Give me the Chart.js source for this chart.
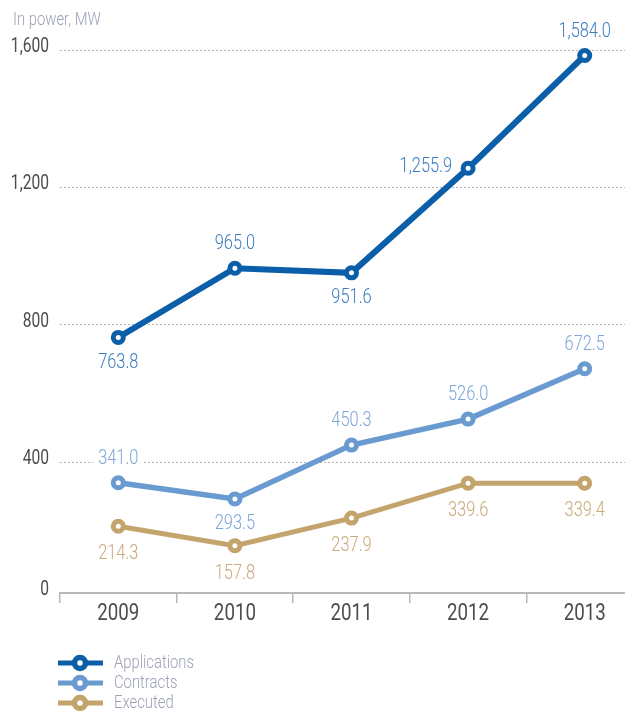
<!DOCTYPE html>
<html>
<head>
<meta charset="utf-8">
<script src="https://cdn.jsdelivr.net/npm/chart.js@4"></script>
<style>
  html, body { margin: 0; padding: 0; background: #fff; overflow: hidden; }
  #wrap { position: relative; width: 653px; height: 713px; }
</style>
</head>
<body>
<div id="wrap"><canvas id="chart" width="653" height="713"></canvas></div>
<script>
// Connection requests by power, MW
const years = ['2009', '2010', '2011', '2012', '2013'];
const applications = [763.8, 965.0, 951.6, 1255.9, 1584.0];
const contracts = [341.0, 293.5, 450.3, 526.0, 672.5];
const executed = [214.3, 157.8, 237.9, 339.6, 339.4];
const yTicks = [0, 400, 800, 1200, 1600];
const seriesNames = ['Applications', 'Contracts', 'Executed'];

// Look of each series
const lineColors = ['#0b5fa8', '#6a9bd0', '#c4a46d'];
const labelColors = ['#3a7cc0', '#7ea6d8', '#c8aa7a'];
const lineWidths = [6, 5.5, 5];
// Where each value label sits relative to its point
const labelPlace = [
  ['below', 'above', 'below', 'left', 'above'],
  ['above', 'below', 'above', 'above', 'above'],
  ['below', 'below', 'below', 'below', 'below']
];

const FONT = "Roboto, 'Noto Sans', sans-serif";
const SQUEEZE = 0.78;     // horizontal squeeze giving a condensed face
const AXIS_BASE = 20;     // value at which the baseline is drawn
const AXIS_TEXT = '#4d4d4d';
const NOTE_TEXT = '#9ca1b6';

function fmt(v) {
  return v.toLocaleString('en-US', { minimumFractionDigits: 1, maximumFractionDigits: 1 });
}

// Condensed text drawing
function fontStr(size, weight) {
  return (weight || 400) + ' ' + size + 'px ' + FONT;
}
function textWidth(ctx, text, size, weight) {
  ctx.font = fontStr(size, weight);
  return ctx.measureText(text).width * SQUEEZE;
}
function drawText(ctx, text, x, y, size, color, align, weight) {
  ctx.save();
  ctx.font = fontStr(size, weight);
  ctx.fillStyle = color;
  ctx.textAlign = align || 'center';
  ctx.textBaseline = 'middle';
  ctx.translate(x, y);
  ctx.scale(SQUEEZE, 1);
  ctx.fillText(text, 0, 0);
  ctx.restore();
}

const LABEL_SIZE = 21;
const LABEL_WEIGHT = 300;

function labelBox(ctx, meta, di, i) {
  const pt = meta.data[i];
  const text = fmt(meta._dataset.data[i]);
  const w = textWidth(ctx, text, LABEL_SIZE, LABEL_WEIGHT);
  const where = labelPlace[di][i];
  let cx = pt.x, cy = pt.y;
  if (where === 'above') cy = pt.y - 24;
  else if (where === 'below') cy = pt.y + (di === 2 ? 28 : 25);
  else if (where === 'left') { cx = pt.x - 16 - w / 2; cy = pt.y - 2; }
  return { text, cx, cy, w };
}

const valueLabels = {
  id: 'valueLabels',
  beforeDatasetsDraw(chart) {
    const ctx = chart.ctx;
    ctx.save();
    chart.data.datasets.forEach((ds, di) => {
      const meta = chart.getDatasetMeta(di);
      meta.data.forEach((pt, i) => {
        const b = labelBox(ctx, meta, di, i);
        ctx.fillStyle = '#ffffff';
        ctx.fillRect(b.cx - b.w / 2 - 5, b.cy - 10, b.w + 10, 20);
      });
    });
    ctx.restore();
  },
  afterDatasetsDraw(chart) {
    const ctx = chart.ctx;
    chart.data.datasets.forEach((ds, di) => {
      const meta = chart.getDatasetMeta(di);
      meta.data.forEach((pt, i) => {
        const b = labelBox(ctx, meta, di, i);
        drawText(ctx, b.text, b.cx, b.cy, LABEL_SIZE, labelColors[di], 'center', LABEL_WEIGHT);
      });
    });
  }
};

// Axis tick labels, drawn condensed at the positions the scales give
const axisLabels = {
  id: 'axisLabels',
  afterDraw(chart) {
    const ctx = chart.ctx;
    const xs = chart.scales.x, ys = chart.scales.y;
    ys.ticks.forEach(t => {
      const y = ys.getPixelForValue(t.value) - 3;
      const text = t.value <= AXIS_BASE ? '0' : t.value.toLocaleString('en-US');
      drawText(ctx, text, chart.chartArea.left - 11, y, 20, AXIS_TEXT, 'right', 400);
    });
    years.forEach((yr, i) => {
      drawText(ctx, yr, xs.getPixelForValue(i), chart.chartArea.bottom + 21, 24, AXIS_TEXT, 'center', 400);
    });
  }
};

const extras = {
  id: 'extras',
  afterDraw(chart) {
    const ctx = chart.ctx;
    // unit caption
    drawText(ctx, 'In power, MW', 13, 20, 19, NOTE_TEXT, 'left', 300);
    // legend
    seriesNames.forEach((name, i) => {
      const y = 663 + 20 * i;
      ctx.save();
      ctx.strokeStyle = lineColors[i];
      ctx.lineWidth = 5;
      ctx.beginPath();
      ctx.moveTo(58, y);
      ctx.lineTo(103, y);
      ctx.stroke();
      ctx.beginPath();
      ctx.arc(80, y, 5.5, 0, Math.PI * 2);
      ctx.fillStyle = '#ffffff';
      ctx.fill();
      ctx.lineWidth = 5.5;
      ctx.stroke();
      ctx.restore();
      drawText(ctx, name, 114, y, 19, NOTE_TEXT, 'left', 300);
    });
  }
};

function series(i, data) {
  return {
    label: seriesNames[i],
    data,
    borderColor: lineColors[i],
    borderWidth: lineWidths[i],
    backgroundColor: '#ffffff',
    pointBackgroundColor: '#ffffff',
    pointBorderColor: lineColors[i],
    pointBorderWidth: 5,
    pointRadius: 5,
    tension: 0,
    clip: false
  };
}

new Chart(document.getElementById('chart'), {
  type: 'line',
  data: {
    labels: years,
    datasets: [series(0, applications), series(1, contracts), series(2, executed)]
  },
  options: {
    responsive: false,
    animation: false,
    events: [],
    layout: { padding: { top: 50, right: 0, bottom: 80, left: 0 } },
    plugins: { legend: { display: false }, tooltip: { enabled: false } },
    scales: {
      x: {
        type: 'category',
        offset: true,
        grid: {
          offset: true,
          drawOnChartArea: false,
          drawTicks: true,
          tickLength: 10,
          color: '#b8b8b8',
          lineWidth: 1.5
        },
        border: { display: true, color: '#b8b8b8', width: 2 },
        ticks: { color: 'rgba(0,0,0,0)', font: { family: FONT, size: 14 }, padding: 3 },
        afterFit(scale) { scale.height = 40; }
      },
      y: {
        min: AXIS_BASE,
        max: 1600,
        afterBuildTicks(scale) {
          scale.ticks = yTicks.map(v => ({ value: Math.max(v, AXIS_BASE) }));
        },
        afterFit(scale) { scale.width = 60; },
        ticks: {
          color: 'rgba(0,0,0,0)',
          font: { family: FONT, size: 14 },
          padding: 11
        },
        grid: {
          drawTicks: false,
          lineWidth: 1,
          color(ctx) { return ctx.tick && ctx.tick.value <= AXIS_BASE ? 'rgba(0,0,0,0)' : '#b3b3b3'; }
        },
        border: { display: false, dash: [2, 2] }
      }
    }
  },
  plugins: [valueLabels, axisLabels, extras]
});
</script>
</body>
</html>
